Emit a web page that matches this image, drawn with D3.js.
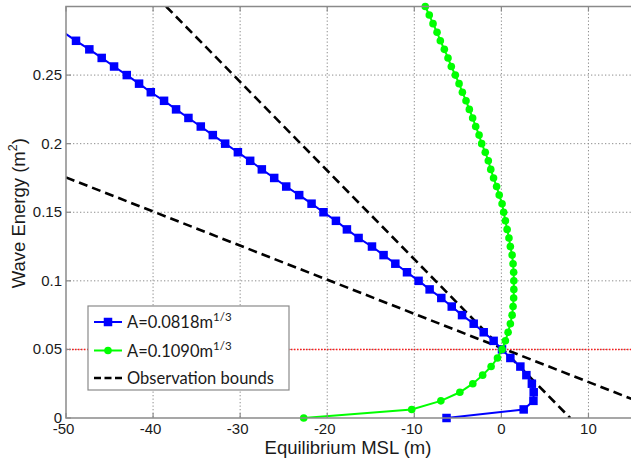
<!DOCTYPE html>
<html>
<head>
<meta charset="utf-8">
<script src="https://cdn.jsdelivr.net/npm/d3@7"></script>
<style>
  html, body { margin: 0; padding: 0; background: #fff; }
  svg { display: block; }
</style>
</head>
<body>
<svg id="chart" width="631" height="461"></svg>
<script>
// Wave energy levels shared by both model runs (step 0.00625 m^2)
const energyBlue = [0, 0.00625, 0.0125, 0.01875, 0.025, 0.03125, 0.0375, 0.04375, 0.05, 0.05625,
  0.0625, 0.06875, 0.075, 0.08125, 0.0875, 0.09375, 0.1, 0.10625, 0.1125, 0.11875,
  0.125, 0.13125, 0.1375, 0.14375, 0.15, 0.15625, 0.1625, 0.16875, 0.175, 0.18125,
  0.1875, 0.19375, 0.2, 0.20625, 0.2125, 0.21875, 0.225, 0.23125, 0.2375, 0.24375,
  0.25, 0.25625, 0.2625, 0.26875, 0.275, 0.28125];
// Equilibrium MSL for A = 0.0818 m^(1/3)
const mslBlue = [-6.3, 2.56, 3.68, 3.71, 3.5, 2.87, 2.18, 1.03, 0.07, -0.89,
  -2.03, -3.18, -4.52, -5.7, -6.9, -8.24, -9.51, -10.84, -12.18, -13.53,
  -14.86, -16.4, -17.74, -19.0, -20.43, -21.8, -23.22, -24.71, -26.09, -27.51,
  -28.85, -30.26, -31.72, -33.14, -34.52, -35.94, -37.36, -38.74, -40.26, -41.61,
  -43.02, -44.48, -45.9, -47.32, -48.85, -50.3];

const energyGreen = [0, 0.00625, 0.0125, 0.01875, 0.025, 0.03125, 0.0375, 0.04375, 0.05, 0.05625,
  0.0625, 0.06875, 0.075, 0.08125, 0.0875, 0.09375, 0.1, 0.10625, 0.1125, 0.11875,
  0.125, 0.13125, 0.1375, 0.14375, 0.15, 0.15625, 0.1625, 0.16875, 0.175, 0.18125,
  0.1875, 0.19375, 0.2, 0.20625, 0.2125, 0.21875, 0.225, 0.23125, 0.2375, 0.24375,
  0.25, 0.25625, 0.2625, 0.26875, 0.275, 0.28125, 0.2875, 0.29375, 0.3];
// Equilibrium MSL for A = 0.1090 m^(1/3)
const mslGreen = [-22.7, -10.3, -6.95, -4.77, -3.28, -2.15, -1.18, -0.45, 0.08, 0.46,
  0.77, 1.03, 1.23, 1.34, 1.41, 1.43, 1.43, 1.41, 1.34, 1.23,
  1.03, 0.87, 0.66, 0.46, 0.26, 0.08, -0.25, -0.55, -0.9, -1.22,
  -1.5, -1.85, -2.26, -2.56, -2.95, -3.3, -3.68, -4.06, -4.48, -4.86,
  -5.29, -5.75, -6.13, -6.55, -7.01, -7.39, -7.85, -8.28, -8.74];

// Observation bounds (two straight lines)
const boundSteepX = [-38.5, 7.9];
const boundSteepY = [0.3, 0];
const boundShallowX = [-50, 15];
const boundShallowY = [0.1754, 0.0138];

// Reference energy level
const refEnergy = 0.05;

const xTicks = [-50, -40, -30, -20, -10, 0, 10];
const xTickLabels = ["-50", "-40", "-30", "-20", "-10", "0", "10"];
const yTicks = [0, 0.05, 0.1, 0.15, 0.2, 0.25];
const yTickLabels = ["0", "0.05", "0.1", "0.15", "0.2", "0.25"];

const legendLabels = ["A=0.0818m", "A=0.1090m", "Observation bounds"];
const legendSup = ["1/3", "1/3", ""];

const svg = d3.select("#chart");
const plotLeft = 66, plotRight = 632, plotTop = 6.5, plotBottom = 418;

const x = d3.scaleLinear().domain([-50, 15]).range([plotLeft, plotRight]);
const y = d3.scaleLinear().domain([0, 0.3]).range([plotBottom, plotTop]);

const axisColor = "#8a8a8a";
const tickFont = "'Liberation Sans', Arial, sans-serif";

svg.append("defs").append("clipPath").attr("id", "plotclip")
  .append("rect").attr("x", plotLeft).attr("y", plotTop)
  .attr("width", plotRight - plotLeft).attr("height", plotBottom - plotTop);

// Grid lines
const grid = svg.append("g");
grid.selectAll("line.gx").data(xTicks.slice(1)).join("line")
  .attr("x1", d => x(d)).attr("x2", d => x(d))
  .attr("y1", plotTop).attr("y2", plotBottom)
  .attr("stroke", "#8c8c8c").attr("stroke-width", 1).attr("stroke-dasharray", "1.3,2.2");
grid.selectAll("line.gy").data(yTicks.slice(1)).join("line")
  .attr("x1", plotLeft).attr("x2", plotRight)
  .attr("y1", d => y(d)).attr("y2", d => y(d))
  .attr("stroke", "#8c8c8c").attr("stroke-width", 1).attr("stroke-dasharray", "1.3,2.2");

// Reference level line
svg.append("line")
  .attr("x1", plotLeft).attr("x2", plotRight)
  .attr("y1", y(refEnergy)).attr("y2", y(refEnergy))
  .attr("stroke", "#ff1a1a").attr("stroke-width", 1.5).attr("stroke-dasharray", "1.5,1.5");

const plot = svg.append("g");
const lineGen = d3.line().x(d => x(d[0])).y(d => y(d[1]));

// Observation bounds
[[boundSteepX, boundSteepY], [boundShallowX, boundShallowY]].forEach(([bx, by]) => {
  plot.append("path")
    .datum(d3.zip(bx, by))
    .attr("d", lineGen)
    .attr("clip-path", "url(#plotclip)")
    .attr("fill", "none").attr("stroke", "#000").attr("stroke-width", 2.6)
    .attr("stroke-dasharray", "9,5");
});

// Blue series
const blueData = d3.zip(mslBlue, energyBlue);
plot.append("path").datum(blueData).attr("d", lineGen)
  .attr("clip-path", "url(#plotclip)")
  .attr("fill", "none").attr("stroke", "#0000ff").attr("stroke-width", 2);
plot.selectAll("rect.mb").data(blueData.filter(d => d[0] >= -50)).join("rect")
  .attr("x", d => x(d[0]) - 4.25).attr("y", d => y(d[1]) - 4.25)
  .attr("width", 8.5).attr("height", 8.5).attr("fill", "#0000ff");

// Green series
const greenData = d3.zip(mslGreen, energyGreen);
plot.append("path").datum(greenData).attr("d", lineGen)
  .attr("clip-path", "url(#plotclip)")
  .attr("fill", "none").attr("stroke", "#00ff00").attr("stroke-width", 2);
plot.selectAll("circle.mg").data(greenData).join("circle")
  .attr("cx", d => x(d[0])).attr("cy", d => y(d[1])).attr("r", 3.8)
  .attr("fill", "#00ff00");

// Axes frame
svg.append("rect").attr("x", plotLeft).attr("y", plotTop)
  .attr("width", plotRight - plotLeft).attr("height", plotBottom - plotTop)
  .attr("fill", "none").attr("stroke", axisColor).attr("stroke-width", 1.5);

// Tick marks (inside, on bottom, top and left)
const ticks = svg.append("g").attr("stroke", axisColor).attr("stroke-width", 1.2);
xTicks.forEach(t => {
  ticks.append("line").attr("x1", x(t)).attr("x2", x(t)).attr("y1", plotBottom).attr("y2", plotBottom - 5);
  ticks.append("line").attr("x1", x(t)).attr("x2", x(t)).attr("y1", plotTop).attr("y2", plotTop + 5);
});
yTicks.forEach(t => {
  ticks.append("line").attr("x1", plotLeft).attr("x2", plotLeft + 5).attr("y1", y(t)).attr("y2", y(t));
});

// Tick labels
svg.append("g").selectAll("text").data(xTicks).join("text")
  .attr("x", d => x(d) - (d < 0 ? 2.5 : 0)).attr("y", plotBottom + 16)
  .attr("text-anchor", "middle")
  .attr("font-family", tickFont).attr("font-size", 15).attr("fill", "#1a1a1a")
  .text((d, i) => xTickLabels[i]);
svg.append("g").selectAll("text").data(yTicks).join("text")
  .attr("x", plotLeft - 4).attr("y", d => y(d) + 5)
  .attr("text-anchor", "end")
  .attr("font-family", tickFont).attr("font-size", 15).attr("fill", "#1a1a1a")
  .text((d, i) => yTickLabels[i]);

// Axis titles
svg.append("text")
  .attr("x", (plotLeft + plotRight) / 2 - 1).attr("y", 454)
  .attr("text-anchor", "middle")
  .attr("font-family", tickFont).attr("font-size", 18.5).attr("fill", "#1a1a1a")
  .text("Equilibrium MSL (m)");
const yt = svg.append("text")
  .attr("transform", `translate(25,${(plotTop + plotBottom) / 2 + 1}) rotate(-90)`)
  .attr("text-anchor", "middle")
  .attr("font-family", tickFont).attr("font-size", 18.5).attr("fill", "#1a1a1a");
yt.append("tspan").text("Wave Energy (m");
yt.append("tspan").attr("font-size", 12.5).attr("dy", -8).text("2");
yt.append("tspan").attr("dy", 8).text(")");

// Legend
const lg = svg.append("g");
lg.append("rect").attr("x", 88).attr("y", 306).attr("width", 201).attr("height", 84)
  .attr("fill", "#fff").attr("stroke", "#8a8a8a").attr("stroke-width", 1.2);
const rowY = [322, 350.5, 378];
const legendFont = "Lato, 'Open Sans', sans-serif";
lg.append("line").attr("x1", 94).attr("x2", 122).attr("y1", rowY[0]).attr("y2", rowY[0])
  .attr("stroke", "#0000ff").attr("stroke-width", 2);
lg.append("rect").attr("x", 103.75).attr("y", rowY[0] - 4.25).attr("width", 8.5).attr("height", 8.5).attr("fill", "#0000ff");
lg.append("line").attr("x1", 94).attr("x2", 122).attr("y1", rowY[1]).attr("y2", rowY[1])
  .attr("stroke", "#00ff00").attr("stroke-width", 2);
lg.append("circle").attr("cx", 108).attr("cy", rowY[1]).attr("r", 3.8).attr("fill", "#00ff00");
lg.append("line").attr("x1", 94).attr("x2", 122).attr("y1", rowY[2]).attr("y2", rowY[2])
  .attr("stroke", "#000").attr("stroke-width", 2.4).attr("stroke-dasharray", "7,3.5");
legendLabels.forEach((lab, i) => {
  const t = lg.append("text").attr("x", 127).attr("y", rowY[i] + 6)
    .attr("font-family", legendFont).attr("font-size", 16.5).attr("fill", "#1a1a1a");
  t.append("tspan").text(lab);
  if (legendSup[i]) {
    t.append("tspan").attr("font-size", 11.5).attr("dy", -7).text(legendSup[i]);
  }
});
</script>
</body>
</html>
